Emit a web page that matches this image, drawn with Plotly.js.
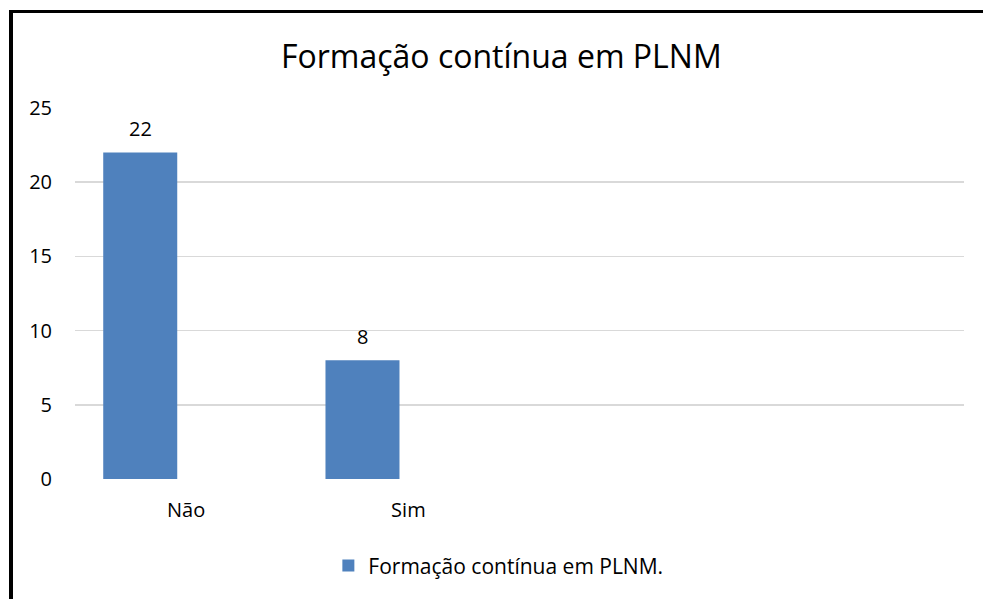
<!DOCTYPE html>
<html>
<head>
<meta charset="utf-8">
<script src="https://cdn.plot.ly/plotly-3.0.1.min.js"></script>
<style>
html,body{margin:0;padding:0;background:#fff;}
#wrap{position:relative;width:983px;height:599px;}
#chart{width:983px;height:599px;}
.bt{position:absolute;left:9px;top:10px;width:974px;height:3px;background:#000;}
.bl{position:absolute;left:9px;top:10px;width:4px;height:589px;background:#000;}
</style>
</head>
<body>
<div id="wrap"><div id="chart"></div><div class="bt"></div><div class="bl"></div></div>
<script>
const categories = ["Não", "Sim", "", ""];
const seriesName = "Formação contínua em PLNM.";
const values = [22, 8, null, null];
const chartTitle = "Formação contínua em PLNM";
const yTicks = [0, 5, 10, 15, 20, 25];

const idx = categories.map((c, i) => i);
const labelIdx = idx.filter(i => categories[i] !== "");

const font = "Open Sans, Liberation Sans, sans-serif";
const barWidth = 0.333, barOffset = -0.373;

const trace = {
  type: "bar",
  x: idx,
  y: values,
  name: seriesName,
  width: barWidth,
  offset: barOffset,
  marker: {color: "#4F81BD"},
  textposition: "none",
  hoverinfo: "x+y"
};

const annotations = idx.filter(i => values[i] != null).map(i => ({
  x: i + barOffset + barWidth / 2, y: values[i], xref: "x", yref: "y",
  text: String(values[i]), showarrow: false, yanchor: "middle", yshift: 24,
  font: {family: font, size: 20, color: "#000"}
}));

const layout = {
  width: 983, height: 599,
  margin: {l: 75, r: 19, t: 108, b: 120},
  paper_bgcolor: "#fff", plot_bgcolor: "#fff",
  font: {family: font, color: "#000"},
  title: {text: chartTitle, font: {family: font, size: 32, color: "#000"},
          x: 0.51, xanchor: "center", y: 0.906, yanchor: "middle", yref: "container"},
  showlegend: true,
  legend: {orientation: "h", x: 0.285, xanchor: "left", y: -0.234, yanchor: "middle",
           font: {family: font, size: 21, color: "#000"}},
  annotations: annotations,
  xaxis: {range: [-0.5, categories.length - 0.5], tickvals: labelIdx,
          ticktext: labelIdx.map(i => categories[i]), showgrid: false, zeroline: false,
          showline: false, ticks: "", ticklabelstandoff: 17,
          tickfont: {family: font, size: 20, color: "#000"}, fixedrange: true},
  yaxis: {range: [0, 25], tickvals: yTicks, showgrid: true, gridcolor: "#D9D9D9",
          gridwidth: 1.5, zeroline: false, showline: false, ticks: "",
          ticklabelstandoff: 22, tickfont: {family: font, size: 20, color: "#000"}, fixedrange: true}
};

Plotly.newPlot("chart", [trace], layout, {displayModeBar: false, staticPlot: true});
</script>
</body>
</html>
